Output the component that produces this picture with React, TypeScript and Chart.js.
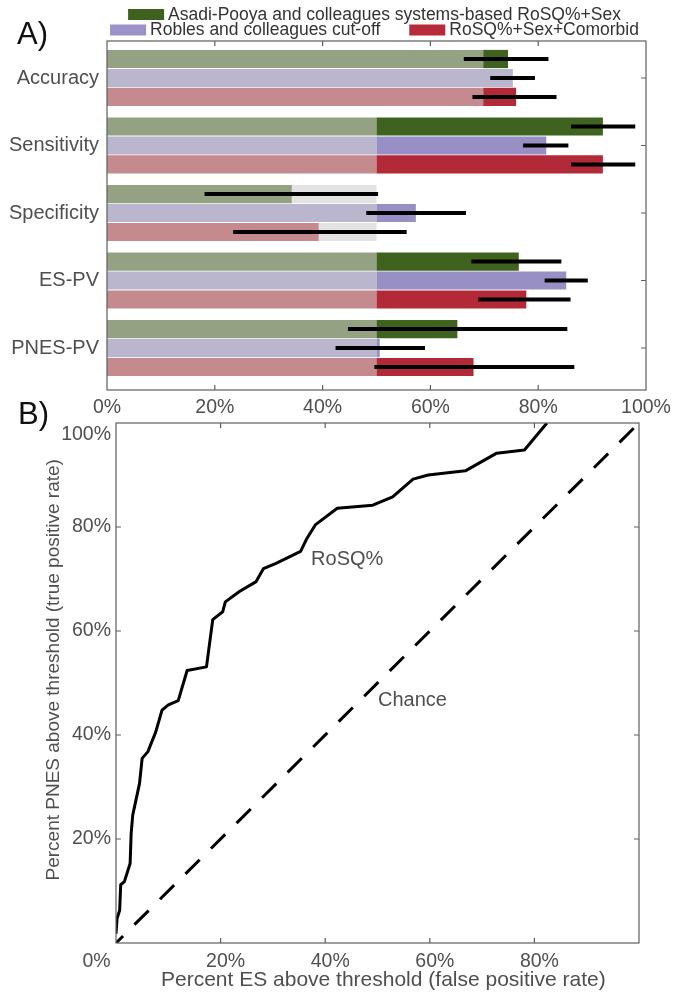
import React, { useEffect, useRef } from 'react';
import { Chart, registerables } from 'chart.js';

Chart.register(...registerables);

const FAMILY = "'Liberation Sans', Arial, Helvetica, sans-serif";

// ---------- Panel A data ----------
const CATEGORIES = ['Accuracy', 'Sensitivity', 'Specificity', 'ES-PV', 'PNES-PV'];
const METHODS = [
  'Asadi-Pooya and colleagues systems-based RoSQ%+Sex',
  'Robles and colleagues cut-off',
  'RoSQ%+Sex+Comorbid',
];
const X_TICKS_A = [0, 20, 40, 60, 80, 100];

const ASADI_VALUES = [74.4, 92.0, 34.3, 76.4, 65.0];
const ASADI_LOW = [66.2, 86.1, 18.1, 67.6, 44.7];
const ASADI_HIGH = [81.9, 98.0, 50.3, 84.3, 85.4];
const ASADI_CHANCE = [69.8, 50, 50, 50, 50];

const ROBLES_VALUES = [75.3, 81.5, 57.3, 85.2, 50.6];
const ROBLES_LOW = [71.1, 77.2, 48.1, 81.2, 42.4];
const ROBLES_HIGH = [79.4, 85.6, 66.6, 89.2, 59.0];
const ROBLES_CHANCE = [75.3, 50, 50, 50, 50];

const COMORBID_VALUES = [75.9, 92.0, 39.3, 77.8, 68.0];
const COMORBID_LOW = [67.8, 86.1, 23.4, 68.9, 49.6];
const COMORBID_HIGH = [83.4, 98.0, 55.6, 86.0, 86.7];
const COMORBID_CHANCE = [69.8, 50, 50, 50, 50];

// ---------- Panel B data ----------
const ROC_FPR = [0, 0.2, 0.7, 0.9, 1.6, 2.7, 2.9, 3.2, 4.5, 5.0, 6.1, 7.6, 8.8, 10.0, 11.9, 13.6, 17.3, 18.5, 20.4, 20.9, 23.6, 26.8, 28.2, 30.6, 35.3, 36.5, 38.1, 42.3, 49.1, 52.9, 56.8, 59.7, 66.8, 72.8, 78.1, 82.4];
const ROC_TPR = [1.8, 4.7, 6.3, 11.2, 11.8, 15.3, 21.1, 24.6, 30.7, 35.5, 36.8, 40.6, 44.8, 45.8, 46.6, 52.4, 53.1, 62.2, 63.7, 65.6, 67.6, 69.5, 72.0, 73.0, 75.3, 77.8, 80.4, 83.6, 84.2, 85.8, 89.2, 90.0, 90.8, 94.2, 94.8, 100];
const CHANCE_X = [0, 100];
const CHANCE_Y = [0, 100];
const B_TICKS = [0, 20, 40, 60, 80, 100];

const COLORS = {
  green: '#40621f', greenFaded: '#94a283',
  lav: '#9890c5', lavFaded: '#b9b6ce',
  red: '#b22a38', redFaded: '#c48a8e',
  grey: '#e3e3e3',
};
const LEGEND_COLORS = ['#3f6120', '#9a92c8', '#b62a3a'];
const TEXT = '#4f4f4f';
const FRAME = '#5e5e5e';

const framePlugin = {
  id: 'frame',
  afterDatasetsDraw(chart: any, _args: any, opts: any) {
    const { ctx, chartArea: a, scales } = chart;
    ctx.save();
    ctx.strokeStyle = FRAME;
    ctx.lineWidth = 1.2;
    ctx.strokeRect(a.left, a.top, a.right - a.left, a.bottom - a.top);
    const L = 5;
    ctx.beginPath();
    (opts.xTicks || []).forEach((v: number) => {
      const px = scales.x.getPixelForValue(v);
      ctx.moveTo(px, a.bottom); ctx.lineTo(px, a.bottom - L);
      ctx.moveTo(px, a.top); ctx.lineTo(px, a.top + L);
    });
    (opts.yTicks || []).forEach((v: number) => {
      const py = scales.y.getPixelForValue(v);
      ctx.moveTo(a.right, py); ctx.lineTo(a.right - L, py);
      if (opts.leftTicks) { ctx.moveTo(a.left, py); ctx.lineTo(a.left + L, py); }
    });
    ctx.stroke();
    ctx.restore();
  },
};

const panelLabelPlugin = {
  id: 'panelLabel',
  afterDraw(chart: any, _args: any, opts: any) {
    const { ctx } = chart;
    ctx.save();
    ctx.font = `31px ${FAMILY}`;
    ctx.fillStyle = '#111';
    ctx.textBaseline = 'middle';
    ctx.textAlign = 'left';
    ctx.fillText(opts.text, opts.x, opts.y);
    ctx.restore();
  },
};

const legendPlugin = {
  id: 'customLegend',
  afterDraw(chart: any) {
    const { ctx, chartArea } = chart;
    const cx = (chartArea.left + chartArea.right) / 2 - 2;
    const SW = 36, SH = 11, GAP = 4, ITEM_GAP = 29;
    const rows = [[0], [1, 2]];
    const rowY = [14.5, 30];
    ctx.save();
    ctx.font = `17.5px ${FAMILY}`;
    ctx.textBaseline = 'middle';
    ctx.textAlign = 'left';
    rows.forEach((row, r) => {
      const widths = row.map((i) => SW + GAP + ctx.measureText(METHODS[i]).width);
      const total = widths.reduce((s, w) => s + w, 0) + ITEM_GAP * (row.length - 1);
      let x = cx - total / 2;
      row.forEach((i, k) => {
        ctx.fillStyle = LEGEND_COLORS[i];
        ctx.fillRect(x, rowY[r] - SH / 2, SW, SH);
        ctx.fillStyle = '#333';
        ctx.fillText(METHODS[i], x + SW + GAP, rowY[r] + 0.5);
        x += widths[k] + ITEM_GAP;
      });
    });
    ctx.restore();
  },
};

const annotationPlugin = {
  id: 'annot',
  afterDatasetsDraw(chart: any, _args: any, opts: any) {
    const { ctx, scales } = chart;
    ctx.save();
    ctx.font = `20px ${FAMILY}`;
    ctx.fillStyle = TEXT;
    ctx.textBaseline = 'middle';
    ctx.textAlign = 'left';
    (opts.items || []).forEach((it: any) => {
      ctx.fillText(it.text, scales.x.getPixelForValue(it.x), scales.y.getPixelForValue(it.y));
    });
    ctx.restore();
  },
};

function methodDatasets(key: string, values: number[], low: number[], high: number[], chance: number[], sat: string, faded: string) {
  const faded_ = values.map((v, i) => ({ y: i, x: [0, Math.min(v, chance[i])] }));
  const extraIdx = values.map((v, i) => i).filter((i) => values[i] !== chance[i]);
  const extra = extraIdx.map((i) => ({ y: i, x: [Math.min(values[i], chance[i]), Math.max(values[i], chance[i])] }));
  const extraColors = extraIdx.map((i) => (values[i] > chance[i] ? sat : COLORS.grey));
  const err = low.map((l, i) => ({ y: i, x: [l, high[i]] }));
  return {
    err: { label: key + '-err', stack: key, order: 0, data: err, backgroundColor: '#000', maxBarThickness: 4 },
    extra: { label: key + '-extra', stack: key, order: 1, data: extra, backgroundColor: extraColors },
    faded: { label: key + '-faded', stack: key, order: 2, data: faded_, backgroundColor: faded },
  };
}

export default function App() {
  const refA = useRef<HTMLCanvasElement>(null);
  const refB = useRef<HTMLCanvasElement>(null);

  useEffect(() => {
    const tickFont = { family: FAMILY, size: 19.5 };
    const catFont = { family: FAMILY, size: 20 };
    const noGrid = { display: false, drawTicks: false };
    const nb = '\u00a0';
    const asadi = methodDatasets('asadi', ASADI_VALUES, ASADI_LOW, ASADI_HIGH, ASADI_CHANCE, COLORS.green, COLORS.greenFaded);
    const robles = methodDatasets('robles', ROBLES_VALUES, ROBLES_LOW, ROBLES_HIGH, ROBLES_CHANCE, COLORS.lav, COLORS.lavFaded);
    const comorbid = methodDatasets('comorbid', COMORBID_VALUES, COMORBID_LOW, COMORBID_HIGH, COMORBID_CHANCE, COLORS.red, COLORS.redFaded);

    const chartA = new Chart(refA.current as HTMLCanvasElement, {
      type: 'bar',
      data: {
        datasets: [
          asadi.err, robles.err, comorbid.err,
          asadi.extra, robles.extra, comorbid.extra,
          asadi.faded, robles.faded, comorbid.faded,
        ] as any,
      },
      plugins: [framePlugin, legendPlugin, panelLabelPlugin],
      options: {
        indexAxis: 'y',
        animation: false,
        responsive: false,
        maintainAspectRatio: false,
        events: [],
        layout: { padding: { left: 0, right: 37, top: 41, bottom: 574 } },
        datasets: { bar: { categoryPercentage: 0.844, barPercentage: 0.96, grouped: true } },
        plugins: {
          legend: { display: false },
          tooltip: { enabled: false },
          frame: { xTicks: X_TICKS_A.slice(1, -1), yTicks: CATEGORIES.map((_, i) => i), leftTicks: false },
          panelLabel: { text: 'A)', x: 17, y: 35 },
        } as any,
        scales: {
          x: {
            type: 'linear', min: 0, max: 100, stacked: false, position: 'bottom', offset: false,
            grid: noGrid, border: { display: false },
            afterBuildTicks: (s: any) => { s.ticks = X_TICKS_A.map((v) => ({ value: v })); },
            ticks: { callback: (v: any) => v + '%', font: tickFont, color: TEXT, padding: 5.5, maxRotation: 0, autoSkip: false },
            afterFit: (s: any) => { s.height = 30; },
          },
          y: {
            type: 'linear', reverse: true, min: -0.548, max: 4.622, offset: false,
            grid: noGrid, border: { display: false },
            afterBuildTicks: (s: any) => { s.ticks = CATEGORIES.map((_, i) => ({ value: i })); },
            ticks: { callback: (v: any) => CATEGORIES[v], font: catFont, color: TEXT, padding: 8, autoSkip: false },
            afterFit: (s: any) => { s.width = 107; },
          },
        } as any,
      },
    });

    const chartB = new Chart(refB.current as HTMLCanvasElement, {
      type: 'line',
      data: {
        datasets: [
          {
            label: 'RoSQ%',
            data: ROC_FPR.map((x, i) => ({ x, y: ROC_TPR[i] })),
            borderColor: '#000', borderWidth: 3, pointRadius: 0, fill: false, tension: 0,
            borderJoinStyle: 'round',
          },
          {
            label: 'Chance',
            data: CHANCE_X.map((x, i) => ({ x, y: CHANCE_Y[i] })),
            borderColor: '#000', borderWidth: 3, pointRadius: 0, fill: false,
            borderDash: [20, 16], borderDashOffset: 10,
          },
        ] as any,
      },
      plugins: [framePlugin, annotationPlugin, panelLabelPlugin],
      options: {
        animation: false,
        responsive: false,
        maintainAspectRatio: false,
        events: [],
        layout: { padding: { left: 31, right: 44, top: 423, bottom: 0 } },
        plugins: {
          legend: { display: false },
          tooltip: { enabled: false },
          frame: { xTicks: B_TICKS.slice(1, -1), yTicks: B_TICKS.slice(1, -1), leftTicks: true },
          annot: { items: [{ text: 'RoSQ%', x: 37.3, y: 73.7 }, { text: 'Chance', x: 50.1, y: 46.7 }] },
          panelLabel: { text: 'B)', x: 18, y: 415 },
        } as any,
        scales: {
          x: {
            type: 'linear', min: 0, max: 100,
            grid: noGrid, border: { display: false },
            afterBuildTicks: (s: any) => { s.ticks = B_TICKS.map((v) => ({ value: v })); },
            ticks: {
              callback: (v: any) => (v === 0 ? '0%' + nb.repeat(9) : v === 100 ? '' : v + '%'),
              font: tickFont, color: TEXT, padding: 6.5, maxRotation: 0, autoSkip: false, labelOffset: 5,
            },
            title: {
              display: true, text: nb + nb + 'Percent ES above threshold (false positive rate)',
              font: { family: FAMILY, size: 21 }, color: TEXT, padding: { top: 0, bottom: 1 },
            },
            afterFit: (s: any) => { s.height = 51; },
          },
          y: {
            type: 'linear', min: 0, max: 100,
            grid: noGrid, border: { display: false },
            afterBuildTicks: (s: any) => { s.ticks = B_TICKS.map((v) => ({ value: v })); },
            ticks: {
              callback: (v: any) => (v === 100 ? ['', '100%'] : v === 0 ? '' : v + '%'),
              font: tickFont, color: TEXT, padding: 5, autoSkip: false,
            },
            title: {
              display: true, text: nb.repeat(5) + 'Percent PNES above threshold (true positive rate)',
              font: { family: FAMILY, size: 19 }, color: TEXT, padding: { top: 11.5, bottom: 0 },
            },
            afterFit: (s: any) => { s.width = 85; },
          },
        } as any,
      },
    });

    return () => { chartA.destroy(); chartB.destroy(); };
  }, []);

  const canvasStyle: React.CSSProperties = { position: 'absolute', left: 0, top: 0, width: 683, height: 994 };
  return (
    <div style={{ position: 'absolute', left: 0, top: 0, width: 683, height: 994, background: '#fff' }}>
      <canvas ref={refA} width={683} height={994} style={canvasStyle} />
      <canvas ref={refB} width={683} height={994} style={canvasStyle} />
    </div>
  );
}
